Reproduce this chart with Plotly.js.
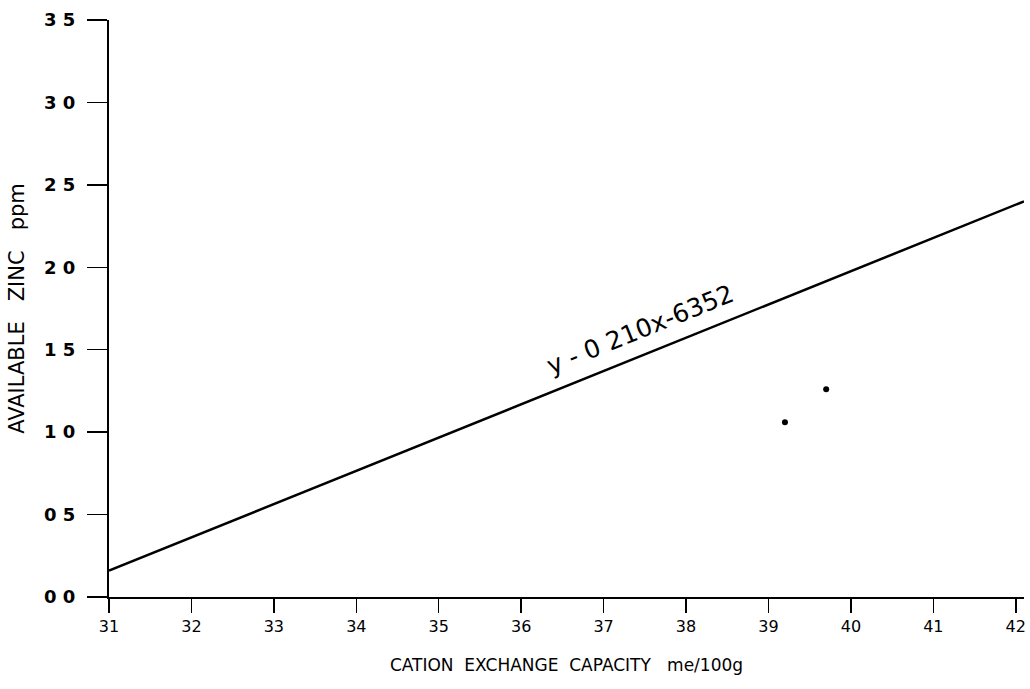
<!DOCTYPE html>
<html>
<head>
<meta charset="utf-8">
<script src="https://cdn.plot.ly/plotly-3.0.1.min.js"></script>
<style>html,body{margin:0;padding:0;background:#fff;}#chart{width:1030px;height:689px;}</style>
</head>
<body>
<div id="chart"></div>
<script>
// Regression line
const lineX = [31, 42.1];
const lineY = [0.16, 2.40];
// Observed points
const pointX = [39.2, 39.7];
const pointY = [1.06, 1.26];
// Tick labels as hand-written in the original
const xTickVals = [31, 32, 33, 34, 35, 36, 37, 38, 39, 40, 41, 42];
const xTickText = ["31", "32", "33", "34", "35", "36", "37", "38", "39", "40", "41", "42"];
const yTickVals = [0, 0.5, 1.0, 1.5, 2.0, 2.5, 3.0, 3.5];
const yTickText = ["0 0", "0 5", "1 0", "1 5", "2 0", "2 5", "3 0", "3 5"];
const equationText = "y - 0 210x-6352";

const traces = [
  {x: lineX, y: lineY, mode: 'lines', type: 'scatter',
   line: {color: '#000', width: 2.5}, hoverinfo: 'skip', showlegend: false},
  {x: pointX, y: pointY, mode: 'markers', type: 'scatter',
   marker: {color: '#000', size: 6}, showlegend: false}
];

const layout = {
  width: 1030, height: 689,
  margin: {l: 109, r: 6, t: 20, b: 92},
  paper_bgcolor: '#fff', plot_bgcolor: '#fff',
  font: {family: 'DejaVu Sans, sans-serif', color: '#000'},
  showlegend: false,
  xaxis: {
    range: [31, 42.1], tickvals: xTickVals, ticktext: xTickText,
    showgrid: false, zeroline: false, showline: true, linecolor: '#000', linewidth: 2,
    ticks: 'outside', ticklen: 14, tickwidth: 1.5, tickcolor: '#000',
    tickfont: {family: 'DejaVu Sans, sans-serif', size: 16, color: '#000'},
    title: {text: 'CATION  EXCHANGE  CAPACITY   me/100g', standoff: 24,
            font: {family: 'DejaVu Sans, sans-serif', size: 17, color: '#000'}}
  },
  yaxis: {
    range: [0, 3.5], tickvals: yTickVals, ticktext: yTickText,
    showgrid: false, zeroline: false, showline: true, linecolor: '#000', linewidth: 2,
    ticks: 'outside', ticklen: 20, tickwidth: 1.5, tickcolor: '#000',
    ticklabelstandoff: 8,
    tickfont: {family: 'DejaVu Sans, sans-serif', size: 18, color: '#000', weight: 'bold'},
    title: {text: 'AVAILABLE   ZINC   ppm', standoff: 14,
            font: {family: 'DejaVu Sans, sans-serif', size: 21, color: '#000'}}
  },
  annotations: [{
    x: 37.45, y: 1.62, xref: 'x', yref: 'y', text: equationText,
    showarrow: false, textangle: -22,
    font: {family: 'DejaVu Sans, sans-serif', size: 25, color: '#000'}
  }]
};

Plotly.newPlot('chart', traces, layout, {displayModeBar: false, staticPlot: true});
</script>
</body>
</html>
